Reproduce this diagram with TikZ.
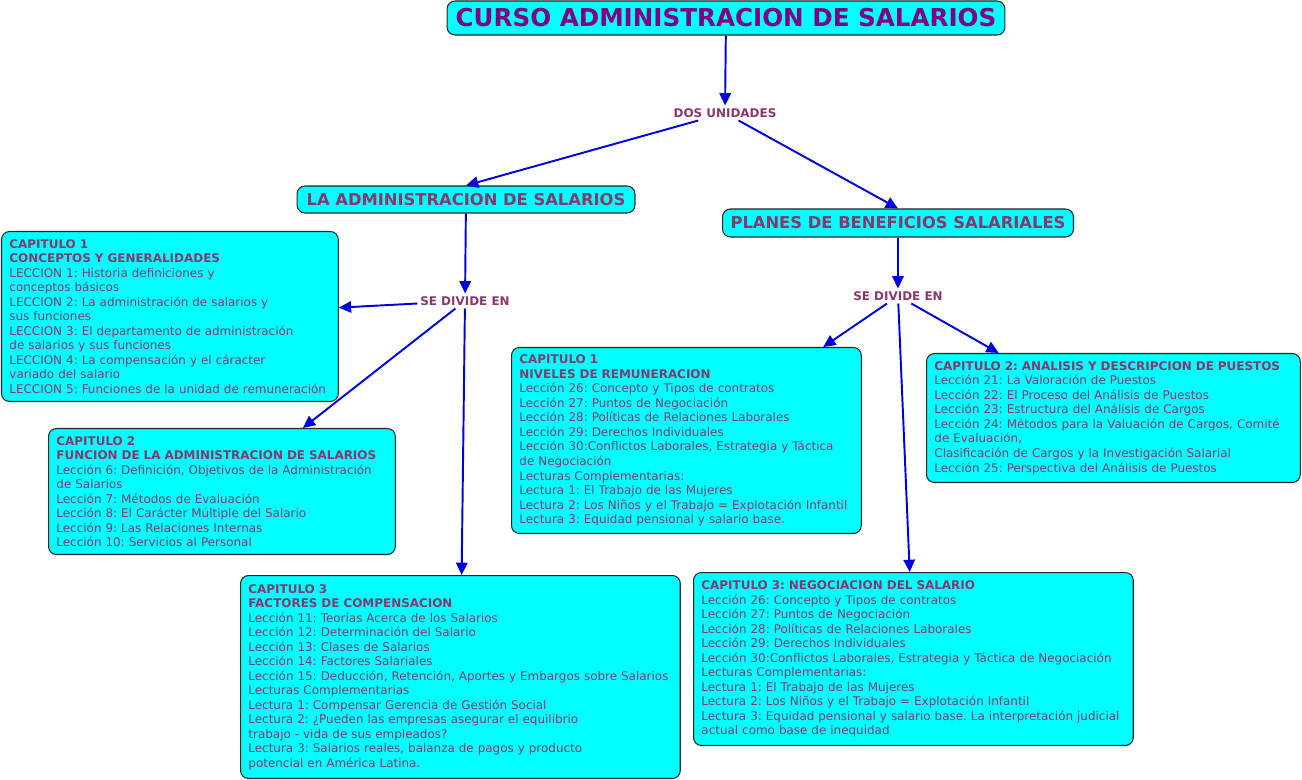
\documentclass[tikz,border=0pt]{standalone}
\usepackage{fontspec}
\setmainfont{DejaVu Sans}
\usetikzlibrary{arrows.meta}
\frenchspacing

\definecolor{cian}{RGB}{0,255,255}
\definecolor{morado}{RGB}{128,0,128}
\definecolor{vino}{RGB}{136,56,110}
\definecolor{azul}{RGB}{0,0,220}

\begin{document}
\begin{tikzpicture}[x=0.02cm, y=-0.02cm,
  caja/.style={draw=black!85, fill=cian, rounded corners=4.5pt, line width=0.6pt},
  tema/.style={caja, text=vino, inner sep=0pt, font=\bfseries\fontsize{9.3}{11}\selectfont},
  capitulo/.style={caja, anchor=north west, align=left, inner xsep=4.5pt, inner ysep=0pt,
    text=vino, font=\fontsize{6.8}{8.27}\selectfont},
  rotulo/.style={text=vino, inner sep=1.5pt, font=\bfseries\fontsize{6.8}{8}\selectfont},
  flecha/.style={-{Triangle[length=7pt,width=6.5pt]}, azul, line width=1.1pt}]

  \useasboundingbox (0,0) rectangle (1302,780);

  % Title
  \node[caja, text=morado, inner sep=0pt, minimum width=11.16cm, minimum height=0.68cm,
    font=\bfseries\fontsize{14}{16}\selectfont] (titulo) at (726,18) {CURSO ADMINISTRACION DE SALARIOS};
  \node[rotulo] (dosU) at (725,113) {DOS UNIDADES};

  % The two units
  \node[tema, minimum width=6.76cm, minimum height=0.54cm] (adminA) at (466,199.5) {LA ADMINISTRACION DE SALARIOS};
  \node[tema, minimum width=7.02cm, minimum height=0.56cm] (planesB) at (898,223) {PLANES DE BENEFICIOS SALARIALES};

  \node[rotulo] (divA) at (465,301) {SE DIVIDE EN};
  \node[rotulo] (divB) at (898,296) {SE DIVIDE EN};

  % Chapters -- left unit
  \node[capitulo, text width=6.42cm, minimum height=3.4cm] (capA1) at (1,231) {%
    \textbf{CAPITULO 1}\\
    \textbf{CONCEPTOS Y GENERALIDADES}\\
    LECCION 1: Historia definiciones y\\
    conceptos básicos\\
    LECCION 2: La administración de salarios y\\
    sus funciones\\
    LECCION 3: El departamento de administración\\
    de salarios y sus funciones\\
    LECCION 4: La compensación y el cáracter\\
    variado del salario\\
    LECCION 5: Funciones de la unidad de remuneración};

  \node[capitulo, text width=6.62cm, minimum height=2.52cm] (capA2) at (48,428) {%
    \textbf{CAPITULO 2}\\
    \textbf{FUNCION DE LA ADMINISTRACION DE SALARIOS}\\
    Lección 6: Definición, Objetivos de la Administración\\
    de Salarios\\
    Lección 7: Métodos de Evaluación\\
    Lección 8: El Carácter Múltiple del Salario\\
    Lección 9: Las Relaciones Internas\\
    Lección 10: Servicios al Personal};

  \node[capitulo, text width=8.48cm, minimum height=4.06cm] (capA3) at (240,575) {%
    \textbf{CAPITULO 3}\\
    \textbf{FACTORES DE COMPENSACION}\\
    Lección 11: Teorías Acerca de los Salarios\\
    Lección 12: Determinación del Salario\\
    Lección 13: Clases de Salarios\\
    Lección 14: Factores Salariales\\
    Lección 15: Deducción, Retención, Aportes y Embargos sobre Salarios\\
    Lecturas Complementarias\\
    Lectura 1: Compensar Gerencia de Gestión Social\\
    Lectura 2: ¿Pueden las empresas asegurar el equilibrio\\
    trabajo - vida de sus empleados?\\
    Lectura 3: Salarios reales, balanza de pagos y producto\\
    potencial en América Latina.};

  % Chapters -- right unit
  \node[capitulo, text width=6.68cm, minimum height=3.72cm] (capB1) at (511,347) {%
    \textbf{CAPITULO 1}\\
    \textbf{NIVELES DE REMUNERACION}\\
    Lección 26: Concepto y Tipos de contratos\\
    Lección 27: Puntos de Negociación\\
    Lección 28: Políticas de Relaciones Laborales\\
    Lección 29: Derechos Individuales\\
    Lección 30:Conflictos Laborales, Estrategia y Táctica\\
    de Negociación\\
    Lecturas Complementarias:\\
    Lectura 1: El Trabajo de las Mujeres\\
    Lectura 2: Los Niños y el Trabajo = Explotación Infantil\\
    Lectura 3: Equidad pensional y salario base.};

  \node[capitulo, text width=7.16cm, minimum height=2.58cm] (capB2) at (926,353) {%
    \textbf{CAPITULO 2: ANALISIS Y DESCRIPCION DE PUESTOS}\\
    Lección 21: La Valoración de Puestos\\
    Lección 22: El Proceso del Análisis de Puestos\\
    Lección 23: Estructura del Análisis de Cargos\\
    Lección 24: Métodos para la Valuación de Cargos, Comité\\
    de Evaluación,\\
    Clasificación de Cargos y la Investigación Salarial\\
    Lección 25: Perspectiva del Análisis de Puestos};

  \node[capitulo, text width=8.48cm, minimum height=3.46cm] (capB3) at (693,572) {%
    \textbf{CAPITULO 3: NEGOCIACION DEL SALARIO}\\
    Lección 26: Concepto y Tipos de contratos\\
    Lección 27: Puntos de Negociación\\
    Lección 28: Políticas de Relaciones Laborales\\
    Lección 29: Derechos Individuales\\
    Lección 30:Conflictos Laborales, Estrategia y Táctica de Negociación\\
    Lecturas Complementarias:\\
    Lectura 1: El Trabajo de las Mujeres\\
    Lectura 2: Los Niños y el Trabajo = Explotación Infantil\\
    Lectura 3: Equidad pensional y salario base. La interpretación judicial\\
    actual como base de inequidad};

  % Connectors
  \draw[flecha] (titulo) -- (dosU);
  \draw[flecha] (dosU) -- (adminA.north);
  \draw[flecha] (dosU) -- (planesB.north);
  \draw[flecha] (adminA) -- (divA);
  \draw[flecha] (planesB) -- (divB);
  \draw[flecha] (divA) -- (capA1);
  \draw[flecha] (divA) -- (capA2);
  \draw[flecha] (divA) -- (capA3);
  \draw[flecha] (divB) -- (capB1);
  \draw[flecha] (divB) -- (capB2);
  \draw[flecha] (divB) -- (capB3);
\end{tikzpicture}
\end{document}
